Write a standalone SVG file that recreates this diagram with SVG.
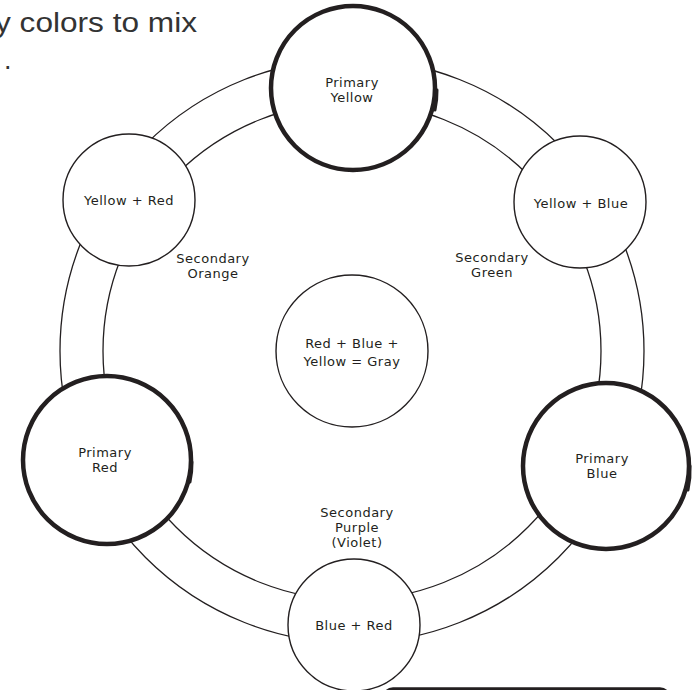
<svg xmlns="http://www.w3.org/2000/svg" width="698" height="690" viewBox="0 0 698 690">
<style>
.ring{fill:none;stroke:#231f20;stroke-width:1.3}
.sec{fill:#fff;stroke:#231f20;stroke-width:1.4}
.pri{fill:#fff;stroke:#231f20;stroke-width:4.5}
.bump{fill:none;stroke:#231f20;stroke-width:3;stroke-linecap:round}
.lbl{font-family:"DejaVu Sans","Liberation Sans",sans-serif;font-size:13px;letter-spacing:0.5px;fill:#231f20;text-anchor:middle}
.head{font-family:"Liberation Sans",Arial,sans-serif;font-size:27px;fill:#333}
</style>
<rect width="698" height="690" fill="#fff"/>
<text class="head" x="-5" y="32" textLength="202" lengthAdjust="spacingAndGlyphs">y colors to mix</text>
<text class="head" x="4" y="69">.</text>
<g id="connectors">
<circle class="ring" cx="352" cy="351" r="292"/>
<circle class="ring" cx="352" cy="351" r="249"/>
</g>
<g id="center">
<circle class="sec" cx="352" cy="351" r="76"/>
<text class="lbl" x="352" y="348">Red + Blue +</text>
<text class="lbl" x="352" y="366">Yellow = Gray</text>
</g>
<g id="primary-yellow">
<circle class="pri" cx="353" cy="88" r="82"/>
<path class="bump" d="M437,90 A84,84 0 0 1 435,110"/>
<text class="lbl" x="352" y="87">Primary</text>
<text class="lbl" x="352" y="102">Yellow</text>
</g>
<g id="yellow-blue">
<circle class="sec" cx="580" cy="202" r="66"/>
<text class="lbl" x="581" y="208">Yellow + Blue</text>
</g>
<g id="primary-blue">
<circle class="pri" cx="606" cy="466" r="83"/>
<path class="bump" d="M690,466 A85,85 0 0 1 688,490"/>
<text class="lbl" x="602" y="463">Primary</text>
<text class="lbl" x="602" y="478">Blue</text>
</g>
<g id="blue-red">
<circle class="sec" cx="354" cy="625" r="66"/>
<text class="lbl" x="354" y="630">Blue + Red</text>
</g>
<g id="primary-red">
<circle class="pri" cx="107" cy="460" r="84"/>
<path class="bump" d="M192,462 A86,86 0 0 1 190,482"/>
<text class="lbl" x="105" y="457">Primary</text>
<text class="lbl" x="105" y="472">Red</text>
</g>
<g id="yellow-red">
<circle class="sec" cx="129" cy="200" r="66"/>
<text class="lbl" x="129" y="205">Yellow + Red</text>
</g>
<g id="secondary-orange">
<text class="lbl" x="213" y="263">Secondary</text>
<text class="lbl" x="213" y="278">Orange</text>
</g>
<g id="secondary-green">
<text class="lbl" x="492" y="262">Secondary</text>
<text class="lbl" x="492" y="277">Green</text>
</g>
<g id="secondary-purple">
<text class="lbl" x="357" y="517">Secondary</text>
<text class="lbl" x="357" y="532">Purple</text>
<text class="lbl" x="357" y="547">(Violet)</text>
</g>
<rect x="384" y="689" width="285" height="30" rx="9" fill="none" stroke="#231f20" stroke-width="3.5"/>
</svg>
